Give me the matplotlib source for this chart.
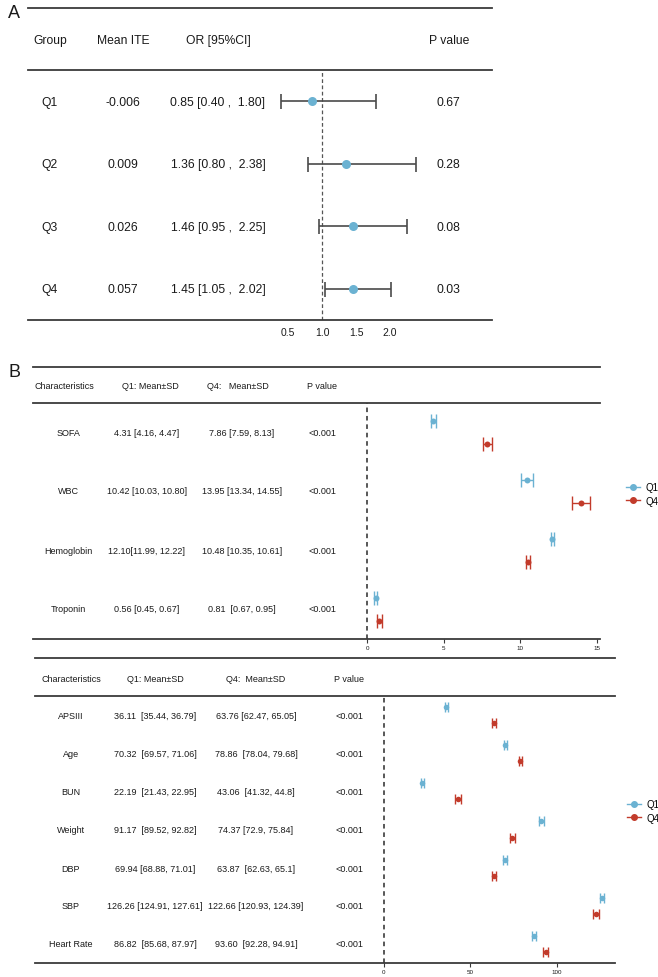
import matplotlib
matplotlib.use('Agg')
import matplotlib.pyplot as plt
from matplotlib.lines import Line2D
import numpy as np

# ---- panel A data ----
groups = ['Q1', 'Q2', 'Q3', 'Q4']
mean_ite = ['-0.006', '0.009', '0.026', '0.057']
or_val = [0.85, 1.36, 1.46, 1.45]
or_lo = [0.40, 0.80, 0.95, 1.05]
or_hi = [1.80, 2.38, 2.25, 2.02]
p_a = ['0.67', '0.28', '0.08', '0.03']
a_ticks = [0.5, 1.0, 1.5, 2.0]

# ---- panel B (top) data ----
b1_names = ['SOFA', 'WBC', 'Hemoglobin', 'Troponin']
b1_q1 = [4.31, 10.42, 12.10, 0.56]
b1_q1_lo = [4.16, 10.03, 11.99, 0.45]
b1_q1_hi = [4.47, 10.80, 12.22, 0.67]
b1_q4 = [7.86, 13.95, 10.48, 0.81]
b1_q4_lo = [7.59, 13.34, 10.35, 0.67]
b1_q4_hi = [8.13, 14.55, 10.61, 0.95]
b1_q1_txt = ['4.31 [4.16, 4.47]', '10.42 [10.03, 10.80]', '12.10[11.99, 12.22]', '0.56 [0.45, 0.67]']
b1_q4_txt = ['7.86 [7.59, 8.13]', '13.95 [13.34, 14.55]', '10.48 [10.35, 10.61]', '0.81  [0.67, 0.95]']
b1_ticks = [0, 5, 10, 15]

# ---- panel B (bottom) data ----
b2_names = ['APSIII', 'Age', 'BUN', 'Weight', 'DBP', 'SBP', 'Heart Rate']
b2_q1 = [36.11, 70.32, 22.19, 91.17, 69.94, 126.26, 86.82]
b2_q1_lo = [35.44, 69.57, 21.43, 89.52, 68.88, 124.91, 85.68]
b2_q1_hi = [36.79, 71.06, 22.95, 92.82, 71.01, 127.61, 87.97]
b2_q4 = [63.76, 78.86, 43.06, 74.37, 63.87, 122.66, 93.60]
b2_q4_lo = [62.47, 78.04, 41.32, 72.9, 62.63, 120.93, 92.28]
b2_q4_hi = [65.05, 79.68, 44.8, 75.84, 65.1, 124.39, 94.91]
b2_q1_txt = ['36.11  [35.44, 36.79]', '70.32  [69.57, 71.06]', '22.19  [21.43, 22.95]',
             '91.17  [89.52, 92.82]', '69.94 [68.88, 71.01]', '126.26 [124.91, 127.61]',
             '86.82  [85.68, 87.97]']
b2_q4_txt = ['63.76 [62.47, 65.05]', '78.86  [78.04, 79.68]', '43.06  [41.32, 44.8]',
             '74.37 [72.9, 75.84]', '63.87  [62.63, 65.1]', '122.66 [120.93, 124.39]',
             '93.60  [92.28, 94.91]']
b2_ticks = [0, 50, 100]

BLUE = '#6BB2D2'
RED = '#C23B2B'
LINE = '#3a3a3a'
TXT = '#1a1a1a'

FB = ['Liberation Sans', 'DejaVu Sans']
plt.rcParams['font.family'] = FB
SA = 8.7  # panel A text size

W, H = 658, 978
fig = plt.figure(figsize=(W / 100, H / 100), dpi=100)


def fx(x):
    return x / W


def fy(y):
    return 1 - y / H


def ftext(x, y, s, size, ha='center'):
    fig.text(fx(x), fy(y), s, ha=ha, va='center', fontsize=size, color=TXT)


def hline(y, x0, x1, lw=1.3):
    fig.add_artist(Line2D([fx(x0), fx(x1)], [fy(y), fy(y)], color=LINE, lw=lw,
                          transform=fig.transFigure))


def axes_px(left, top, right, bottom, zero_px, unit_px, nrows):
    ax = fig.add_axes([fx(left), fy(bottom), (right - left) / W, (bottom - top) / H])
    ax.set_xlim((left - zero_px) / unit_px, (right - zero_px) / unit_px)
    ax.set_ylim(nrows - 0.5, -0.5)
    for s in ['top', 'left', 'right']:
        ax.spines[s].set_visible(False)
    ax.spines['bottom'].set_color(LINE)
    ax.spines['bottom'].set_linewidth(1.3)
    ax.set_yticks([])
    ax.patch.set_alpha(0)
    return ax


# ================= Panel A =================
fig.text(fx(8), fy(14), 'A', fontsize=13, ha='left', va='center', color=TXT)
hline(9, 28, 492)
hline(71, 28, 492)
for x, s in [(50, 'Group'), (123, 'Mean ITE'), (218, 'OR [95%CI]'), (449, 'P value')]:
    ftext(x, 41, s, SA)

axA = axes_px(28, 71, 492, 321, 254, 68, len(groups))
ya = np.arange(len(groups))
axA.axvline(1.0, color='#555555', lw=0.9, ls=(0, (3, 2)), zorder=1)
axA.errorbar(or_val, ya, xerr=[np.array(or_val) - np.array(or_lo), np.array(or_hi) - np.array(or_val)],
             fmt='none', ecolor='#4a4a4a', elinewidth=1.2, capsize=5.4, capthick=1.2, zorder=2)
axA.plot(or_val, ya, 'o', color=BLUE, markersize=6.5, markeredgewidth=0, zorder=3)
axA.set_xticks(a_ticks)
axA.set_xticklabels([f'{t:.1f}' for t in a_ticks], fontsize=7.5, color=TXT)
axA.tick_params(axis='x', length=0, pad=5)

row_px_a = [103, 165, 228, 290]
for i, yp in enumerate(row_px_a):
    ftext(50, yp, groups[i], SA)
    ftext(123, yp, mean_ite[i], SA)
    ftext(218, yp, f'{or_val[i]:.2f} [{or_lo[i]:.2f} ,  {or_hi[i]:.2f}]', SA)
    ftext(448, yp, p_a[i], SA)


def forest(ax, q1, q1lo, q1hi, q4, q4lo, q4hi, off, cap, ms):
    y = np.arange(len(q1))
    q1, q1lo, q1hi = map(np.array, (q1, q1lo, q1hi))
    q4, q4lo, q4hi = map(np.array, (q4, q4lo, q4hi))
    ax.axvline(0, color='#2a2a2a', lw=1.1, ls=(0, (3, 2.5)), zorder=1)
    for v, lo, hi, yy, c in [(q1, q1lo, q1hi, y - off, BLUE), (q4, q4lo, q4hi, y + off, RED)]:
        ax.errorbar(v, yy, xerr=[v - lo, hi - v], fmt='none', ecolor=c,
                    elinewidth=1.0, capsize=cap, capthick=1.0, zorder=2)
        ax.plot(v, yy, 'o', color=c, markersize=ms, markeredgewidth=0, zorder=3)


def legend(ax, x, y):
    handles = [Line2D([], [], color=BLUE, marker='o', markersize=4, lw=1),
               Line2D([], [], color=RED, marker='o', markersize=4, lw=1)]
    ax.legend(handles, ['Q1', 'Q4'], loc='center left', bbox_to_anchor=(fx(x), fy(y)),
              bbox_transform=fig.transFigure, frameon=False, fontsize=7, handlelength=1.5,
              handletextpad=0.5, labelspacing=0.35, borderpad=0)


# ================= Panel B top =================
fig.text(fx(8), fy(373), 'B', fontsize=13, ha='left', va='center', color=TXT)
hline(368, 33, 600)
hline(404, 33, 600)
for x, s in [(64, 'Characteristics'), (150, 'Q1: Mean±SD'), (238, 'Q4:   Mean±SD'), (322, 'P value')]:
    ftext(x, 387, s, 6.5)

axB1 = axes_px(33, 404, 600, 640, 367, 15.33, len(b1_names))
forest(axB1, b1_q1, b1_q1_lo, b1_q1_hi, b1_q4, b1_q4_lo, b1_q4_hi, 0.2, 5.0, 4.3)
axB1.set_xticks(b1_ticks)
axB1.set_xticklabels([str(t) for t in b1_ticks], fontsize=4.5, color=TXT)
axB1.tick_params(axis='x', length=3, width=0.8, pad=1, color=LINE)
legend(axB1, 621, 495)

row_px_b1 = [434, 492, 551, 610]
for i, yp in enumerate(row_px_b1):
    ftext(68, yp, b1_names[i], 6.5)
    ftext(147, yp, b1_q1_txt[i], 6.5)
    ftext(242, yp, b1_q4_txt[i], 6.5)
    ftext(322, yp, '<0.001', 6.5)

# ================= Panel B bottom =================
hline(659, 35, 615)
hline(697, 35, 615)
for x, s in [(71, 'Characteristics'), (155, 'Q1: Mean±SD'), (256, 'Q4:  Mean±SD'), (349, 'P value')]:
    ftext(x, 679, s, 6.5)

axB2 = axes_px(35, 697, 615, 964, 384, 1.727, len(b2_names))
forest(axB2, b2_q1, b2_q1_lo, b2_q1_hi, b2_q4, b2_q4_lo, b2_q4_hi, 0.21, 3.6, 4.0)
axB2.set_xticks(b2_ticks)
axB2.set_xticklabels([str(t) for t in b2_ticks], fontsize=4.5, color=TXT)
axB2.tick_params(axis='x', length=3, width=0.8, pad=1, color=LINE)
legend(axB2, 622, 812)

row_px_b2 = [717, 755, 793, 831, 869, 907, 945]
for i, yp in enumerate(row_px_b2):
    ftext(71, yp, b2_names[i], 6.5)
    ftext(155, yp, b2_q1_txt[i], 6.5)
    ftext(256, yp, b2_q4_txt[i], 6.5)
    ftext(349, yp, '<0.001', 6.5)

fig.savefig('out.png', dpi=100, facecolor='white')
